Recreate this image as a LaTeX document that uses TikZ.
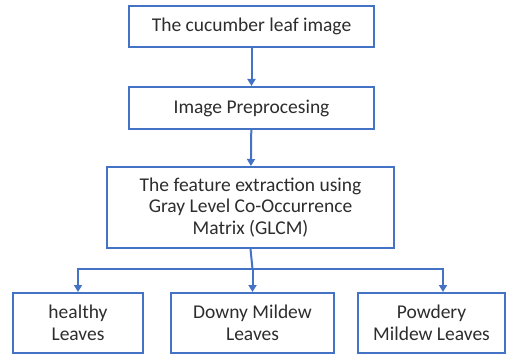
\documentclass[tikz,border=0pt]{standalone}
\usepackage{fontspec}
\setmainfont{Carlito}
\usetikzlibrary{arrows.meta}
\definecolor{boxblue}{RGB}{68,114,196}
\definecolor{txtgray}{RGB}{45,45,45}
\tikzset{
  stage/.style={draw=boxblue, line width=2pt, fill=white, align=center,
    text=txtgray, font=\fontsize{19.5}{21.5}\selectfont, inner sep=2pt},
  flow/.style={draw=boxblue, line width=2pt, -{Triangle[width=8pt,length=7pt]}}
}
\begin{document}
\begin{tikzpicture}[x=1pt,y=-1pt]
    \useasboundingbox (0,0) rectangle (513,355);

    % main stages
    \node[stage, minimum width=245pt, minimum height=41pt] (leaf) at (251.5,26.5) {The cucumber leaf image};
    \node[stage, minimum width=245pt, minimum height=42pt] (prep) at (251.5,108) {Image Preprocesing};
    \node[stage, minimum width=287pt, minimum height=81pt] (glcm) at (250.5,207.5)
      {The feature extraction using\\Gray Level Co-Occurrence\\Matrix (GLCM)};

    % classes
    \node[stage, minimum width=130pt, minimum height=60pt] (healthy) at (78,323) {healthy\\Leaves};
    \node[stage, minimum width=163pt, minimum height=60pt] (downy) at (252.5,323) {Downy Mildew\\Leaves};
    \node[stage, minimum width=147pt, minimum height=60pt] (powdery) at (431.5,323) {Powdery\\Mildew Leaves};

    % arrows
    \draw[flow] (leaf) -- (prep);
    \draw[flow] (prep) -- (glcm);
    \coordinate (split) at (252.5,269);
    \draw[draw=boxblue, line width=2pt] (glcm.south) -- (split);
    \draw[flow] (split) -| (healthy.north);
    \draw[flow] (split) -- (downy.north);
    \draw[flow] (split) -| ([xshift=11.5pt]powdery.north);
\end{tikzpicture}
\end{document}
